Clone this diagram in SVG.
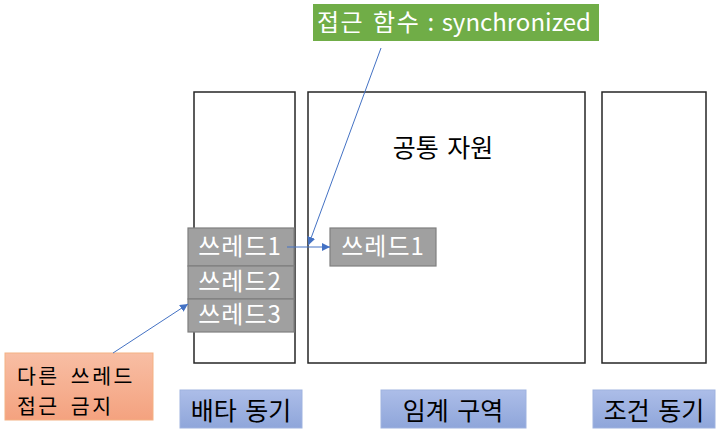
<svg xmlns="http://www.w3.org/2000/svg" width="720" height="437" viewBox="0 0 720 437">
<style>
text{font-family:"Noto Sans CJK KR","Noto Sans",sans-serif;}
.frame{fill:#fff;stroke:#262626;stroke-width:1.5;}
.gray{fill:#a0a0a0;stroke:#7f7f7f;stroke-width:1.2;}
.wt{fill:#fff;font-size:24px;letter-spacing:1px;}
.bt{fill:#000;font-size:25px;word-spacing:3px;}
.ot{fill:#000;font-size:20.5px;letter-spacing:2.5px;word-spacing:4px;}
.blue{fill:url(#gb);stroke:#9fb3e0;stroke-width:1;}
.conn{stroke:#4472c4;stroke-width:1;fill:none;}
</style>
<defs>
<linearGradient id="gb" x1="0" y1="0" x2="0" y2="1"><stop offset="0" stop-color="#acbde8"/><stop offset="1" stop-color="#8fa6da"/></linearGradient>
<linearGradient id="go" x1="0" y1="0" x2="0" y2="1"><stop offset="0" stop-color="#f8bea4"/><stop offset="1" stop-color="#f4a27f"/></linearGradient>
<marker id="ah" viewBox="0 0 10 10" refX="10" refY="5" markerWidth="8" markerHeight="8" orient="auto" markerUnits="userSpaceOnUse"><path d="M0,0L10,5L0,10z" fill="#4472c4"/></marker>
</defs>
<g id="exclusive-area"><rect class="frame" x="194" y="92" width="101" height="271"/></g>
<g id="critical-area"><rect class="frame" x="308" y="92" width="277" height="271"/>
<text class="bt" x="443" y="157" text-anchor="middle">공통 자원</text></g>
<g id="condition-area"><rect class="frame" x="602" y="92" width="104" height="271"/></g>
<g id="thread1"><rect class="gray" x="188" y="228" width="106" height="38"/><text class="wt" x="240" y="255" text-anchor="middle">쓰레드1</text></g>
<g id="thread2"><rect class="gray" x="188" y="266" width="106" height="33"/><text class="wt" x="240" y="290" text-anchor="middle">쓰레드2</text></g>
<g id="thread3"><rect class="gray" x="188" y="299" width="106" height="33"/><text class="wt" x="240" y="323" text-anchor="middle">쓰레드3</text></g>
<g id="thread1-in"><rect class="gray" x="330" y="228" width="106" height="38"/><text class="wt" x="383" y="255" text-anchor="middle">쓰레드1</text></g>
<g id="sync-label"><rect x="313" y="4" width="286" height="37" fill="#70ad47"/><text x="454" y="31" text-anchor="middle" fill="#fff" font-size="24px" word-spacing="2px"><tspan letter-spacing="1.5px">접근 함수</tspan> : synchronized</text></g>
<g id="deny-label"><rect x="5" y="353" width="148" height="67" fill="url(#go)" stroke="#f4b183" stroke-width="1"/><text class="ot" x="17" y="384">다른 쓰레드</text><text class="ot" x="17" y="414">접근 금지</text></g>
<g id="label-exclusive"><rect class="blue" x="180" y="390" width="122" height="38"/><text class="bt" x="241" y="420" text-anchor="middle">배타 동기</text></g>
<g id="label-critical"><rect class="blue" x="381" y="390" width="145" height="38"/><text class="bt" x="453" y="420" text-anchor="middle">임계 구역</text></g>
<g id="label-condition"><rect class="blue" x="593" y="390" width="122" height="38"/><text class="bt" x="654" y="420" text-anchor="middle">조건 동기</text></g>
<g id="connectors">
<line class="conn" x1="287" y1="247" x2="330" y2="247" marker-end="url(#ah)"/>
<line class="conn" x1="381" y1="48" x2="308.5" y2="245" marker-end="url(#ah)"/>
<line class="conn" x1="113" y1="353" x2="188" y2="304" marker-end="url(#ah)" stroke="#5b8bd6"/>
</g>
</svg>
